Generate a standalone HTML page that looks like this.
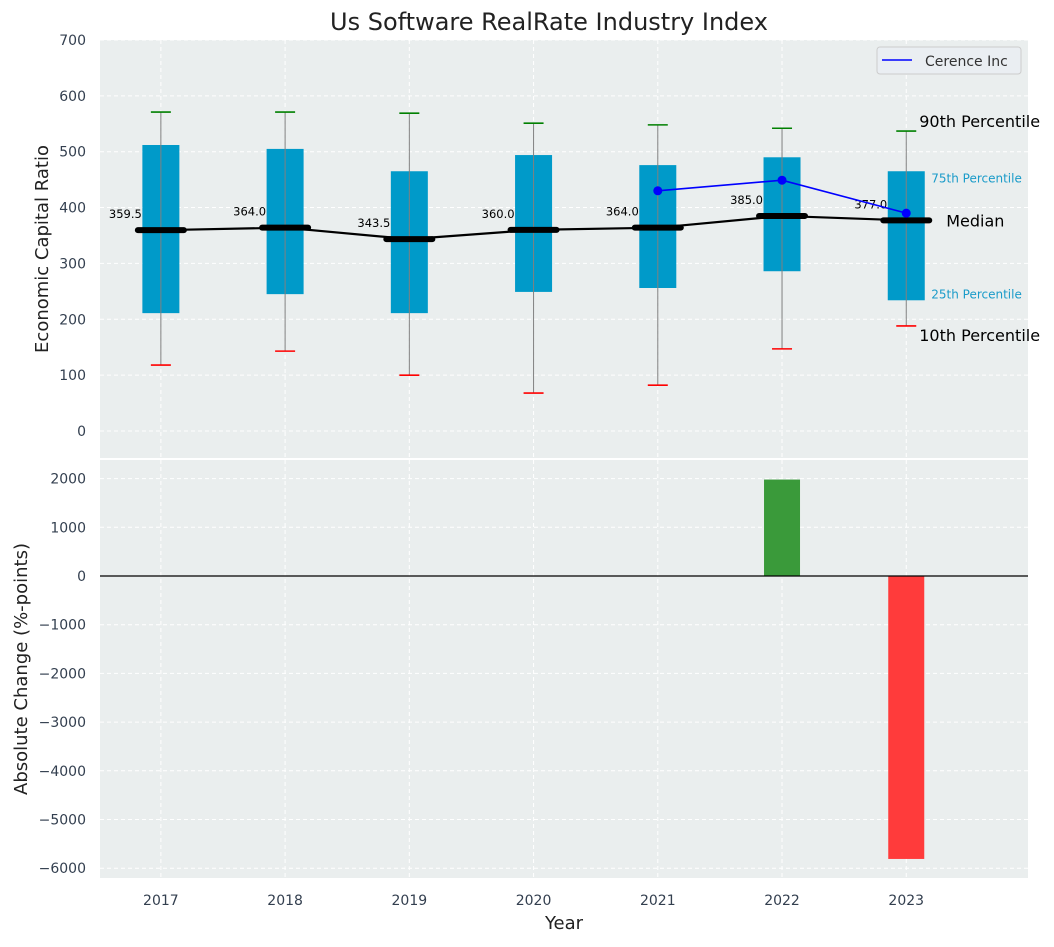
<!DOCTYPE html>
<html><head><meta charset="utf-8"><style>
body{margin:0;background:#fff;font-family:"Liberation Sans","DejaVu Sans",sans-serif}
svg text{font-family:"DejaVu Sans","Liberation Sans",sans-serif}
</style></head><body>
<svg id="c" width="1054" height="942" viewBox="0 0 1054 942" xmlns="http://www.w3.org/2000/svg"></svg>
<script>
const years=[2017,2018,2019,2020,2021,2022,2023];
const p10=[118,143,100,68,82,147,188];
const q1=[211,245,211,249,256,286,234];
const medians=[359.5,364.0,343.5,360.0,364.0,385.0,377.0];
const q3=[512,505,465,494,476,490,465];
const p90=[571,571,569,551,548,542,537];
const companyYears=[2021,2022,2023];
const companyValues=[430,449,390];
const changeYears=[2022,2023];
const changeValues=[1980,-5810];
const topTicks=[0,100,200,300,400,500,600,700];
const botTicks=[2000,1000,0,-1000,-2000,-3000,-4000,-5000,-6000];

const NS="http://www.w3.org/2000/svg";
const svg=document.getElementById('c');
function el(t,a,p){const e=document.createElementNS(NS,t);for(const k in a)e.setAttribute(k,a[k]);(p||svg).appendChild(e);return e;}
function txt(s,a,p){const e=el('text',a,p);e.textContent=s;return e;}
const X=v=>100+(v-2016.51)*(928/7.47);
const YT=v=>431-v*0.5586;
const YB=v=>576-v*0.0487;
const L=100,R=1028;

let b=el('rect',{x:L,y:40,width:R-L,height:418,fill:'#eaeeee'});

b=el('rect',{x:L,y:460,width:R-L,height:418,fill:'#eaeeee'});

years.forEach(y=>{el('line',{x1:X(y),x2:X(y),y1:40,y2:458,stroke:'#fff','stroke-dasharray':'4,3'});el('line',{x1:X(y),x2:X(y),y1:460,y2:878,stroke:'#fff','stroke-dasharray':'4,3'});});
topTicks.forEach(t=>{el('line',{x1:L,x2:R,y1:YT(t),y2:YT(t),stroke:'#fff','stroke-dasharray':'4,3'});
 const e=txt(t,{x:86,y:YT(t)+5,'text-anchor':'end','font-size':14,fill:'#333f4f'});});
botTicks.forEach(t=>{el('line',{x1:L,x2:R,y1:YB(t),y2:YB(t),stroke:'#fff','stroke-dasharray':'4,3'});
 const e=txt(t<0?'\u2212'+(-t):t,{x:86,y:YB(t)+5,'text-anchor':'end','font-size':14,fill:'#333f4f'});});
years.forEach(y=>{const e=txt(y,{x:X(y),y:905,'text-anchor':'middle','font-size':14,fill:'#333f4f'});});

years.forEach((y,i)=>{
 const x=X(y);
 const r=el('rect',{x:x-18.5,y:YT(q3[i]),width:37,height:YT(q1[i])-YT(q3[i]),fill:'#009ac9'});
 
 el('line',{x1:x,x2:x,y1:YT(p90[i]),y2:YT(p10[i]),stroke:'#808080','stroke-width':1});
 el('line',{x1:x-10,x2:x+10,y1:YT(p90[i]),y2:YT(p90[i]),stroke:'green','stroke-width':1.6});
 el('line',{x1:x-10,x2:x+10,y1:YT(p10[i]),y2:YT(p10[i]),stroke:'red','stroke-width':1.6});
});
let d=years.map((y,i)=>(i?'L':'M')+X(y)+','+YT(medians[i])).join(' ');
let m=el('path',{d:d,fill:'none',stroke:'#000','stroke-width':2.2});
years.forEach((y,i)=>{const x=X(y);
 const s=el('line',{x1:x-23,x2:x+23,y1:YT(medians[i]),y2:YT(medians[i]),stroke:'#000','stroke-width':6,'stroke-linecap':'round'});
 
 const t=txt(medians[i].toFixed(1),{x:x-19,y:YT(medians[i])-12,'text-anchor':'end','font-size':11.5,fill:'#000'});
 });
d=companyYears.map((y,i)=>(i?'L':'M')+X(y)+','+YT(companyValues[i])).join(' ');
m=el('path',{d:d,fill:'none',stroke:'#0000ff','stroke-width':1.6});
companyYears.forEach((y,i)=>{const c=el('circle',{cx:X(y),cy:YT(companyValues[i]),r:4.5,fill:'#0000ff'});});
const lx=X(2023);
[['90th Percentile',lx+13,YT(p90[6])-4,16,'#000'],['75th Percentile',lx+25,YT(q3[6])+11,12,'#1a9bc9'],['Median',lx+40,YT(medians[6])+6,16,'#000'],['25th Percentile',lx+25,YT(q1[6])-2,12,'#1a9bc9'],['10th Percentile',lx+13,YT(p10[6])+15,16,'#000']].forEach(a=>{
 const t=txt(a[0],{x:a[1],y:a[2],'font-size':a[3],fill:a[4]});});
const lg=el('g',{});
el('rect',{x:877,y:47,width:144,height:27,rx:3,fill:'#eaeef2',stroke:'#ccc'},lg);
el('line',{x1:882,x2:912,y1:60,y2:60,stroke:'#0000ff','stroke-width':1.6},lg);
txt('Cerence Inc',{x:925,y:66,'font-size':14,fill:'#333'},lg);

changeYears.forEach((y,i)=>{const v=changeValues[i];
 const r=el('rect',{x:X(y)-18,y:Math.min(YB(v),YB(0)),width:36,height:Math.abs(YB(v)-YB(0)),fill:v>=0?'#3a9a3a':'#ff3b3b'});
 });
el('line',{x1:L,x2:R,y1:YB(0),y2:YB(0),stroke:'#000','stroke-width':1.2});

let t=txt('Us Software RealRate Industry Index',{x:549,y:30,'text-anchor':'middle','font-size':24,fill:'#222'});
t=txt('Economic Capital Ratio',{x:48,y:249,'text-anchor':'middle','font-size':18,fill:'#222',transform:'rotate(-90 48 249)'});
t=txt('Absolute Change (%-points)',{x:27,y:669,'text-anchor':'middle','font-size':18,fill:'#222',transform:'rotate(-90 27 669)'});
t=txt('Year',{x:564,y:929,'text-anchor':'middle','font-size':18,fill:'#222'});
</script>
</body></html>
